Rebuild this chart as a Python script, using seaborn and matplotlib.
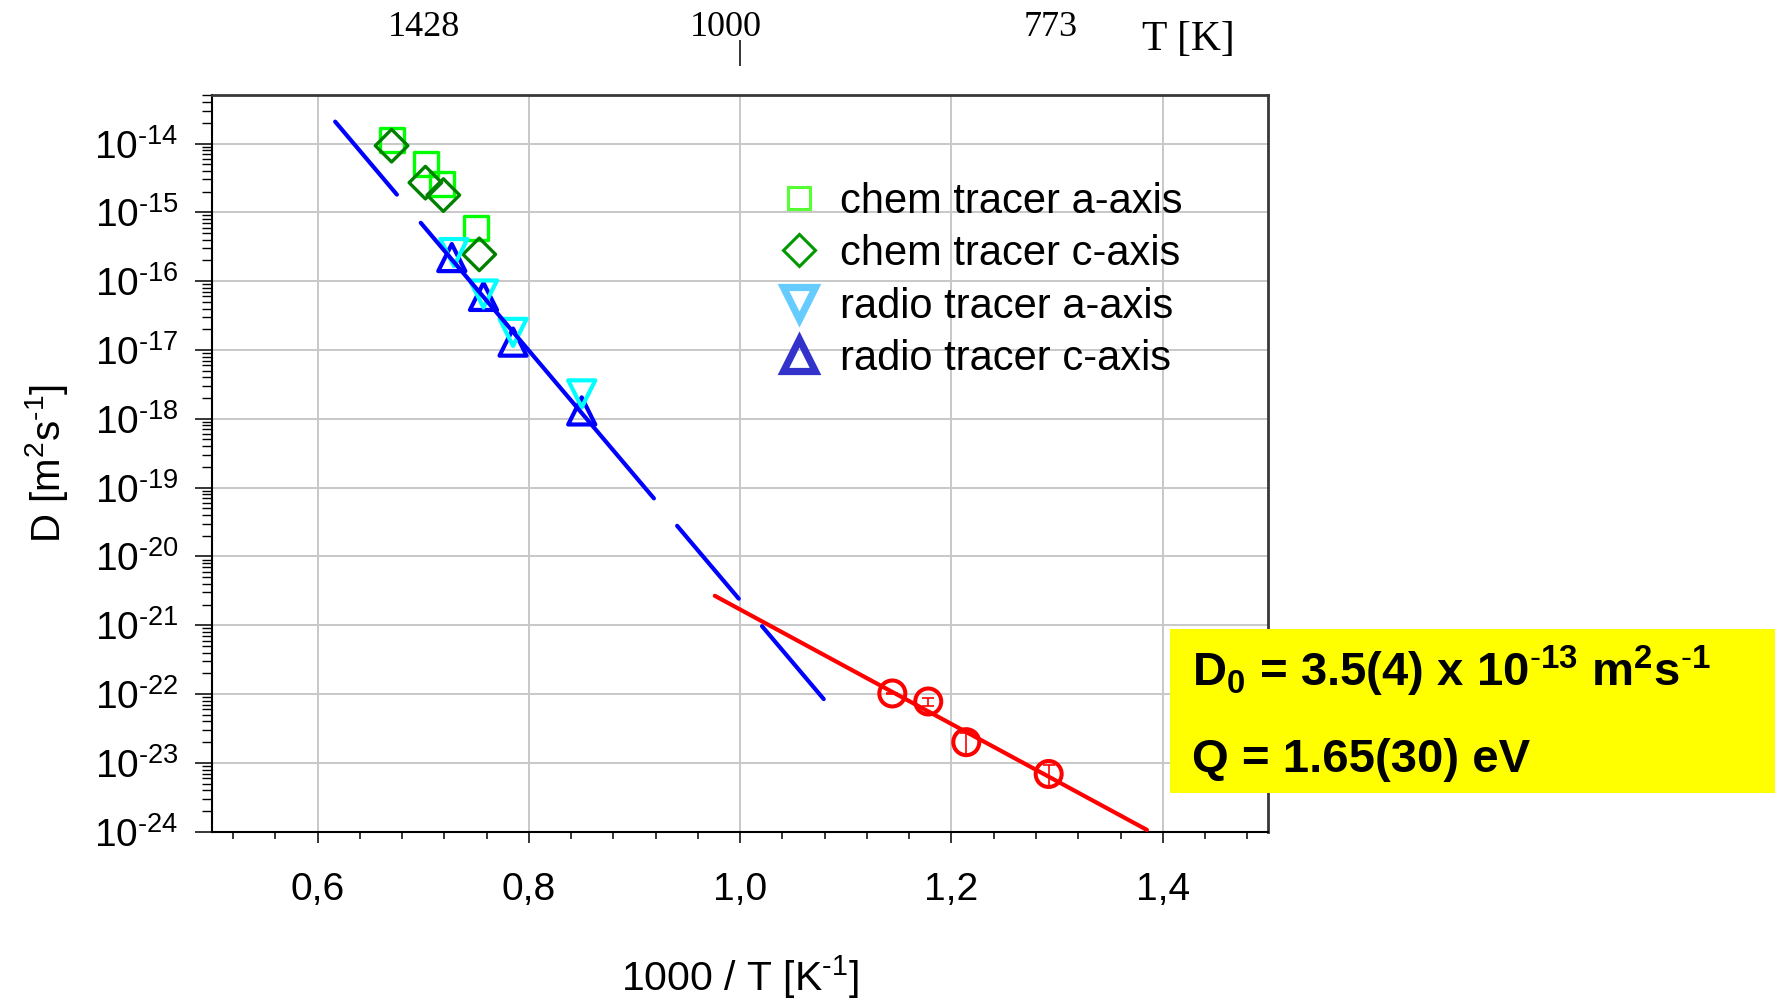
import numpy as np
import matplotlib
matplotlib.use("Agg")
import matplotlib.pyplot as plt
import seaborn as sns
from matplotlib import ticker
from matplotlib.lines import Line2D
from matplotlib.patches import Rectangle
from matplotlib.transforms import ScaledTranslation

# ---- measured diffusion coefficients: x = 1000/T [1/K], D [m^2/s] ----
chem_a_x = [0.670, 0.703, 0.718, 0.750]
chem_a_D = [1.12e-14, 5.1e-15, 2.6e-15, 5.9e-16]

chem_c_x = [0.670, 0.702, 0.719, 0.753]
chem_c_D = [9.3e-15, 2.7e-15, 1.78e-15, 2.45e-16]

radio_a_x = [0.729, 0.757, 0.785, 0.850]
radio_a_D = [2.6e-16, 6.5e-17, 1.8e-17, 2.3e-18]

radio_c_x = [0.727, 0.757, 0.785, 0.850]
radio_c_D = [2.2e-16, 6.0e-17, 1.3e-17, 1.3e-18]

low_x = [1.144, 1.178, 1.214, 1.292]
low_D = [1.02e-22, 7.8e-23, 2.0e-23, 6.9e-24]
low_D_err = [0.03e-22, 0.10e-22, 0.07e-22, 0.23e-23]

# ---- Arrhenius fits  D = D0 * exp(-Q / kT) ----
k_B = 8.617e-5  # eV/K
low_D0_mant, low_D0_exp, low_D0_unc = 3.5, -13, "4"
low_Q, low_Q_unc = 1.65, "30"
low_range = [0.976, 1.385]

high_D0 = 3.2e-3
high_Q = 3.6
high_range = [0.6166, 1.0829]

# ---- axis ticks ----
x_major = [0.6, 0.8, 1.0, 1.2, 1.4]
y_decades = list(range(-24, -13))
top_T = [1428, 1000, 773]
top_T_marked = [1000]

legend_labels = ["chem tracer a-axis", "chem tracer c-axis",
                 "radio tracer a-axis", "radio tracer c-axis"]


def arrhenius(x, D0, Q):
    return D0 * np.exp(-Q * np.asarray(x) / (1000.0 * k_B))


def hyph(n):
    """Exponent written with a plain hyphen instead of a math minus."""
    return (r"\text{-}" + str(-n)) if n < 0 else str(n)


# ---- style ----
sns.set_theme(style="white")
plt.rcParams["font.family"] = ["Liberation Sans", "DejaVu Sans"]
plt.rcParams["mathtext.fontset"] = "custom"
plt.rcParams["mathtext.rm"] = "Liberation Sans"
plt.rcParams["mathtext.it"] = "Liberation Sans:italic"
plt.rcParams["mathtext.bf"] = "Liberation Sans:bold"
plt.rcParams["lines.scale_dashes"] = False
plt.rcParams["text.color"] = "black"
plt.rcParams["axes.labelcolor"] = "black"

W, H = 1781, 1002
fig = plt.figure(figsize=(W / 100, H / 100), dpi=100)
fig.patch.set_facecolor("white")
ax = fig.add_axes([212 / W, 1 - 831.7 / H, 1056.4 / W, 736.3 / H])
ax.set_facecolor("white")
ax.set_yscale("log")
ax.set_xlim(0.5, 1.5)
ax.set_ylim(1e-24, 5e-14)

# ---- measured points ----
mk = dict(ax=ax, facecolor="none", legend=False, zorder=3)
sns.scatterplot(x=chem_a_x, y=chem_a_D, marker="s", s=300,
                edgecolor="#00FF00", linewidth=2.4, **mk)
sns.scatterplot(x=chem_c_x, y=chem_c_D, marker="D", s=275,
                edgecolor="#008000", linewidth=2.4, **mk)
sns.scatterplot(x=radio_c_x, y=radio_c_D, marker="^", s=380,
                edgecolor="#0000FF", linewidth=3.0, **mk)
sns.scatterplot(x=radio_a_x, y=radio_a_D, marker="v", s=380,
                edgecolor="#00FFFF", linewidth=3.0, **mk)
sns.scatterplot(x=low_x, y=low_D, marker="o", s=350,
                edgecolor="#FF0000", linewidth=2.9, **mk)
ax.errorbar(low_x, low_D, yerr=low_D_err, fmt="none", ecolor="#FF0000",
            elinewidth=1.2, capsize=4, capthick=1.2, zorder=3)

# ---- fit lines ----
xs_hi = np.linspace(high_range[0], high_range[1], 300)
sns.lineplot(x=xs_hi, y=arrhenius(xs_hi, high_D0, high_Q), ax=ax,
             color="#0000FF", linewidth=3.0, estimator=None, sort=False,
             linestyle=(0, (68.8, 26.6, 259.9, 25.9, 68.7, 25.9, 68.8, 300)),
             dash_capstyle="round", solid_capstyle="round", zorder=4)

low_D0 = low_D0_mant * 10.0 ** low_D0_exp
xs_lo = np.linspace(low_range[0], low_range[1], 300)
sns.lineplot(x=xs_lo, y=arrhenius(xs_lo, low_D0, low_Q), ax=ax,
             color="#FF0000", linewidth=3.0, estimator=None, sort=False,
             solid_capstyle="round", zorder=4)

# ---- axes, ticks, grid ----
ax.xaxis.set_major_locator(ticker.FixedLocator(x_major))
ax.xaxis.set_minor_locator(ticker.MultipleLocator(0.04))
ax.xaxis.set_major_formatter(
    ticker.FuncFormatter(lambda v, p: f"{v:.1f}".replace(".", ",")))
ax.xaxis.set_minor_formatter(ticker.NullFormatter())
ax.yaxis.set_major_locator(ticker.FixedLocator([10.0 ** e for e in y_decades]))
ax.yaxis.set_minor_locator(ticker.LogLocator(base=10, subs=np.arange(2, 10),
                                             numticks=200))
ax.yaxis.set_major_formatter(ticker.FuncFormatter(
    lambda v, p: r"$10^{" + hyph(int(round(np.log10(v)))) + r"}$"))
ax.yaxis.set_minor_formatter(ticker.NullFormatter())

ax.tick_params(axis="x", which="major", direction="out", length=7.7,
               width=1.1, pad=21, labelsize=28, colors="black",
               top=False, bottom=True)
ax.tick_params(axis="x", which="minor", direction="out", length=4.8,
               width=1.1, colors="black", top=False, bottom=True)
ax.tick_params(axis="y", which="major", direction="out", length=12,
               width=1.1, pad=12, labelsize=28, colors="black",
               left=True, right=False)
ax.tick_params(axis="y", which="minor", direction="out", length=7,
               width=1.0, colors="black", left=True, right=False)

ax.grid(True, which="major", color="#C8C8C8", linewidth=1.4)
ax.grid(False, which="minor")
ax.set_axisbelow(True)

for side in ("left", "bottom"):
    ax.spines[side].set_color("black")
    ax.spines[side].set_linewidth(1.5)
for side in ("top", "right"):
    ax.spines[side].set_color("#383838")
    ax.spines[side].set_linewidth(2.0)

ax.set_xlabel(r"1000 / T [K$^{\text{-}1}$]", fontsize=29.5)
ax.set_ylabel(r"D [m$^{2}$s$^{\text{-}1}$]", fontsize=29)
ax.xaxis.set_label_coords(0.5, -0.1645)
ax.yaxis.set_label_coords(-0.1344, 0.5)


# ---- temperature scale on top ----
def inv_k(x):
    x = np.asarray(x, dtype=float)
    with np.errstate(divide="ignore", invalid="ignore"):
        return 1000.0 / x


sec = ax.secondary_xaxis(1.04, functions=(inv_k, inv_k))
sec.set_xticks(top_T)
sec.tick_params(axis="x", which="major", direction="out", length=18.8,
                width=1.1, pad=-3, labelsize=26, colors="black",
                labelfontfamily="Liberation Serif")
for s in sec.spines.values():
    s.set_visible(False)
for tick, T in zip(sec.xaxis.get_major_ticks(len(top_T)), top_T):
    if T not in top_T_marked:
        tick.tick1line.set_visible(False)
        tick.tick2line.set_visible(False)
    else:
        tick.label2.set_transform(tick.label2.get_transform()
                                  + ScaledTranslation(-0.14, 0,
                                                      fig.dpi_scale_trans))
fig.text(1188 / W, 1 - 40 / H, "T [K]", family="Liberation Serif",
         fontsize=30, ha="center", va="center")

# ---- legend ----
handles = [
    Line2D([], [], ls="none", marker="s", ms=16.5, mew=2.2,
           mfc="none", mec="#55FF33"),
    Line2D([], [], ls="none", marker="D", ms=15.8, mew=2.2,
           mfc="none", mec="#009900"),
    Line2D([], [], ls="none", marker="v", ms=23.5, mew=5.2,
           mfc="none", mec="#66CCFF"),
    Line2D([], [], ls="none", marker="^", ms=23, mew=5.2,
           mfc="none", mec="#3333CC"),
]
ax.legend(handles, legend_labels, loc="upper left",
          bbox_to_anchor=(778 / W, 1 - 181.5 / H),
          bbox_transform=fig.transFigure, frameon=False, fontsize=30,
          borderpad=0, borderaxespad=0, handlelength=1.0,
          handletextpad=0.49, labelspacing=0.30)

# ---- fit parameter box ----
fig.add_artist(Rectangle((1170 / W, 1 - 793 / H), 605 / W, 164 / H,
                         transform=fig.transFigure, facecolor="#FFFF00",
                         edgecolor="none"))
line1 = (r"D$_{\mathbf{0}}$ = " + f"{low_D0_mant}({low_D0_unc}) x 10"
         + r"$^{\mathbf{" + hyph(low_D0_exp) + r"}}$ m$^{\mathbf{2}}$s$^{\mathbf{"
         + hyph(-1) + r"}}$")
line2 = f"Q = {low_Q:.2f}({low_Q_unc}) eV"
fig.text(1191.6 / W, 1 - 686.7 / H, line1, fontsize=34, fontweight="bold",
         va="baseline", ha="left")
fig.text(1191.6 / W, 1 - 771.7 / H, line2, fontsize=34, fontweight="bold",
         va="baseline", ha="left")

fig.savefig("out.png", dpi=100, facecolor="white")
